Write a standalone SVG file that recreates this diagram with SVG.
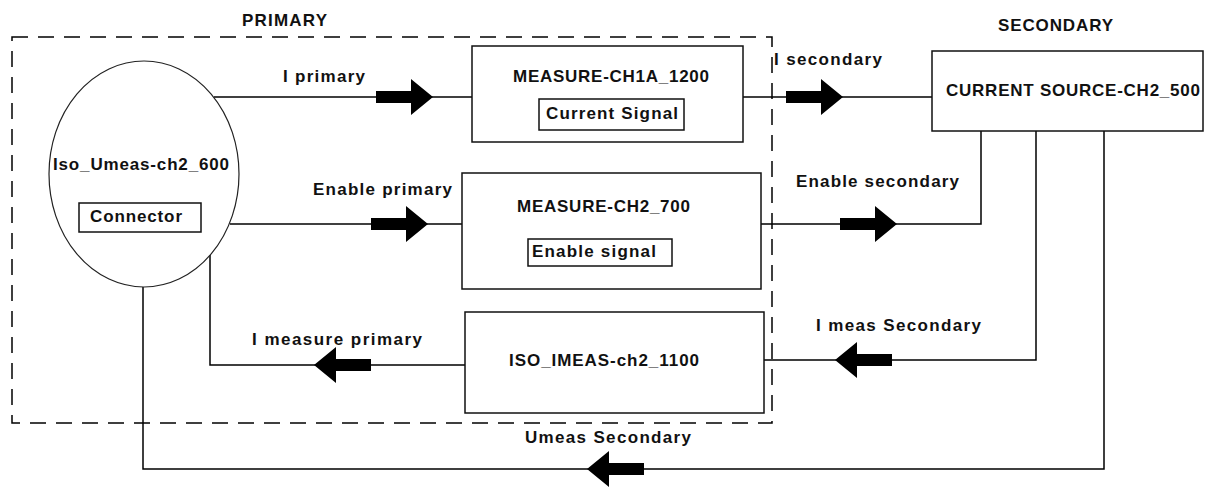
<svg xmlns="http://www.w3.org/2000/svg" xmlns:xlink="http://www.w3.org/1999/xlink" width="1205" height="487" viewBox="0 0 1205 487">
<style>
text{font-family:"Liberation Sans",Arial,sans-serif;font-weight:bold;font-size:17px;fill:#111}
.box{fill:#fff;stroke:#111;stroke-width:1.5}
.inner{fill:none;stroke:#111;stroke-width:1.5}
.wire{fill:none;stroke:#000;stroke-width:1.5}
.dash{fill:none;stroke:#000;stroke-width:1.5;stroke-dasharray:16 10}
.arr{fill:#000}
</style>
<defs>
<path id="arrowR" d="M-57,-6 L-22,-6 L-22,-18 L0,0 L-22,18 L-22,6 L-57,6 Z"/>
<path id="arrowL" d="M57,-6 L22,-6 L22,-18 L0,0 L22,18 L22,6 L57,6 Z"/>
</defs>
<rect width="1205" height="487" fill="#fff"/>
<g id="primary-group">
<rect class="dash" x="12" y="37" width="760" height="386"/>
<text x="242" y="26" textLength="85" lengthAdjust="spacing">PRIMARY</text>
</g>
<text id="secondary-label" x="998" y="31" textLength="115" lengthAdjust="spacing">SECONDARY</text>
<g id="connectors">
<path class="wire" d="M214,97 H472"/>
<path class="wire" d="M743,97 H932"/>
<path class="wire" d="M230,224 H462"/>
<path class="wire" d="M761,224 H981 V131"/>
<path class="wire" d="M1036,131 V360 H764"/>
<path class="wire" d="M465,365 H210 V255"/>
<path class="wire" d="M1104,131 V469 H143 V287"/>
<use href="#arrowR" xlink:href="#arrowR" class="arr" x="433" y="97"/>
<use href="#arrowR" xlink:href="#arrowR" class="arr" x="843" y="97"/>
<use href="#arrowR" xlink:href="#arrowR" class="arr" x="428" y="224"/>
<use href="#arrowR" xlink:href="#arrowR" class="arr" x="897" y="224"/>
<use href="#arrowL" xlink:href="#arrowL" class="arr" x="835" y="360"/>
<use href="#arrowL" xlink:href="#arrowL" class="arr" x="314" y="365"/>
<use href="#arrowL" xlink:href="#arrowL" class="arr" x="587" y="469"/>
<text x="283" y="82" textLength="82" lengthAdjust="spacing">I primary</text>
<text x="774" y="65" textLength="108" lengthAdjust="spacing">I secondary</text>
<text x="313" y="195" textLength="139" lengthAdjust="spacing">Enable primary</text>
<text x="796" y="187" textLength="163" lengthAdjust="spacing">Enable secondary</text>
<text x="816" y="331" textLength="165" lengthAdjust="spacing">I meas Secondary</text>
<text x="252" y="345" textLength="170" lengthAdjust="spacing">I measure primary</text>
<text x="525" y="443" textLength="166" lengthAdjust="spacing">Umeas Secondary</text>
</g>
<g id="iso-umeas">
<ellipse cx="144" cy="174" rx="95" ry="113" fill="#fff" stroke="#222" stroke-width="1.2"/>
<text x="53" y="170" textLength="176" lengthAdjust="spacing">Iso_Umeas-ch2_600</text>
<rect class="inner" x="79" y="203" width="122" height="29"/>
<text x="90" y="222" textLength="92" lengthAdjust="spacing">Connector</text>
</g>
<g id="measure-ch1a">
<rect class="box" x="472" y="46" width="271" height="96"/>
<text x="513" y="82" textLength="196" lengthAdjust="spacing">MEASURE-CH1A_1200</text>
<rect class="inner" x="539" y="99" width="145" height="31"/>
<text x="546" y="119" textLength="132" lengthAdjust="spacing">Current Signal</text>
</g>
<g id="measure-ch2">
<rect class="box" x="462" y="173" width="299" height="116"/>
<text x="517" y="212" textLength="173" lengthAdjust="spacing">MEASURE-CH2_700</text>
<rect class="inner" x="528" y="239" width="144" height="27"/>
<text x="532" y="257" textLength="124" lengthAdjust="spacing">Enable signal</text>
</g>
<g id="iso-imeas">
<rect class="box" x="465" y="312" width="299" height="101"/>
<text x="509" y="366" textLength="190" lengthAdjust="spacing">ISO_IMEAS-ch2_1100</text>
</g>
<g id="current-source">
<rect class="box" x="932" y="51" width="271" height="80"/>
<text x="946" y="96" textLength="254" lengthAdjust="spacing">CURRENT SOURCE-CH2_500</text>
</g>
</svg>
